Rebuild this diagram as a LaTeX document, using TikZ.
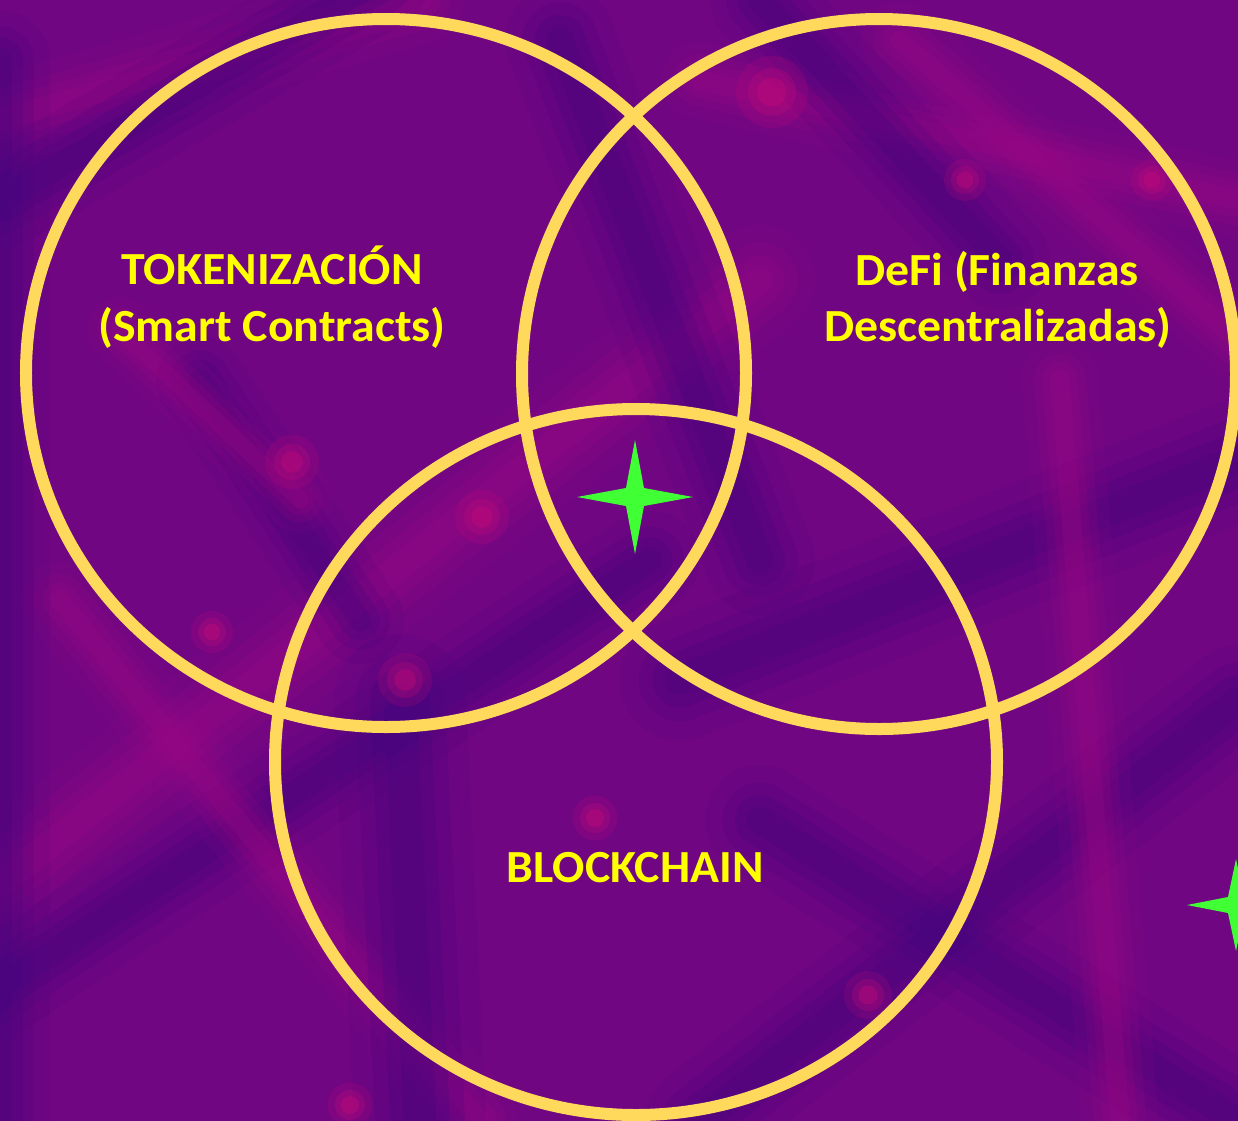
\documentclass[tikz,border=0pt]{standalone}
\usepackage{fontspec}
\setmainfont{Carlito}[FakeStretch=1.04]
\definecolor{bgbase}{RGB}{112,6,130}
\definecolor{bgdark}{RGB}{66,4,126}
\definecolor{bgmag}{RGB}{155,8,130}
\definecolor{bgpink}{RGB}{200,10,120}
\definecolor{ringcol}{RGB}{255,217,92}
\definecolor{txtcol}{RGB}{255,255,0}
\definecolor{starcol}{RGB}{64,255,52}
\newcommand\softrod[3]{%
  \draw[#1, line width=#2*2.2bp, opacity=.10, line cap=round] #3;
  \draw[#1, line width=#2*1.5bp, opacity=.16, line cap=round] #3;
  \draw[#1, line width=#2*1.0bp, opacity=.22, line cap=round] #3;
  \draw[#1, line width=#2*0.55bp, opacity=.25, line cap=round] #3;}
\newcommand\softblob[3]{%
  \fill[#1, opacity=.18] #2 circle[radius=#3*1.5bp];
  \fill[#1, opacity=.25] #2 circle[radius=#3*1.0bp];
  \fill[#1, opacity=.35] #2 circle[radius=#3*0.6bp];}
\tikzset{
  ring/.style={draw=ringcol, line width=12bp},
  label/.style={text=txtcol, font=\fontsize{46bp}{57bp}\selectfont\bfseries, anchor=base, inner sep=0pt},
  sparkle/.style={fill=starcol, draw=none}
}
\begin{document}
\begin{tikzpicture}[x=1bp, y=-1bp]
\useasboundingbox (0,0) rectangle (1238,1121);
\fill[bgbase] (0,0) rectangle (1238,1121);
\begin{scope}
\clip (0,0) rectangle (1238,1121);
% soft structure in the background
\softrod{bgmag}{40}{(0,120) -- (420,0)}
\softrod{bgdark}{45}{(0,200) -- (380,-20)}
\softrod{bgmag}{50}{(-20,900) -- (760,280)}
\softrod{bgdark}{45}{(-20,1000) -- (650,560)}
\softrod{bgmag}{35}{(60,600) -- (480,1121)}
\softrod{bgdark}{60}{(400,700) -- (420,1121)}
\softrod{bgdark}{50}{(560,40) -- (760,560)}
\softrod{bgmag}{35}{(700,80) -- (1238,200)}
\softrod{bgdark}{45}{(760,0) -- (1000,260)}
\softrod{bgdark}{55}{(680,680) -- (1238,460)}
\softrod{bgmag}{35}{(900,40) -- (1238,340)}
\softrod{bgdark}{50}{(760,820) -- (1238,1121)}
\softrod{bgdark}{50}{(1238,700) -- (700,1121)}
\softrod{bgmag}{35}{(1060,380) -- (1120,1121)}
\softrod{bgdark}{40}{(200,380) -- (360,620)}
\softrod{bgmag}{30}{(120,330) -- (300,500)}
\softrod{bgdark}{45}{(0,60) -- (0,1121)}
\softblob{bgpink}{(292,462)}{18}
\softblob{bgpink}{(482,517)}{18}
\softblob{bgpink}{(405,680)}{18}
\softblob{bgpink}{(595,818)}{15}
\softblob{bgpink}{(868,995)}{16}
\softblob{bgpink}{(212,632)}{14}
\softblob{bgpink}{(772,92)}{24}
\softblob{bgpink}{(965,180)}{14}
\softblob{bgpink}{(1152,180)}{14}
\softblob{bgpink}{(350,1105)}{15}
\end{scope}
% Venn rings
\coordinate (cl) at (386,373);
\coordinate (cr) at (879,374);
\coordinate (cb) at (636,762);
\draw[ring] (cl) ellipse [x radius=360bp, y radius=354bp];
\draw[ring] (cr) ellipse [x radius=357bp, y radius=355bp];
\draw[ring] (cb) ellipse [x radius=361bp, y radius=353bp];
% labels
\node[label] (tok1) at (272,284) {TOKENIZACIÓN};
\node[label] (tok2) at (272,341) {(Smart Contracts)};
\node[label] (defi1) at (997,285) {DeFi (Finanzas};
\node[label] (defi2) at (998,341) {Descentralizadas)};
\node[label] (bc) at (635,882) {BLOCKCHAIN};
% sparkles
\coordinate (s1) at (635,497);
\fill[sparkle] (s1) +(0,-57) -- +(9,-9) -- +(58,0) -- +(9,9) -- +(0,57) -- +(-9,9) -- +(-58,0) -- +(-9,-9) -- cycle;
\coordinate (s2) at (1236,905);
\fill[sparkle] (s2) +(0,-46) -- +(8,-8) -- +(49,0) -- +(8,8) -- +(0,46) -- +(-8,8) -- +(-49,0) -- +(-8,-8) -- cycle;
\end{tikzpicture}
\end{document}
